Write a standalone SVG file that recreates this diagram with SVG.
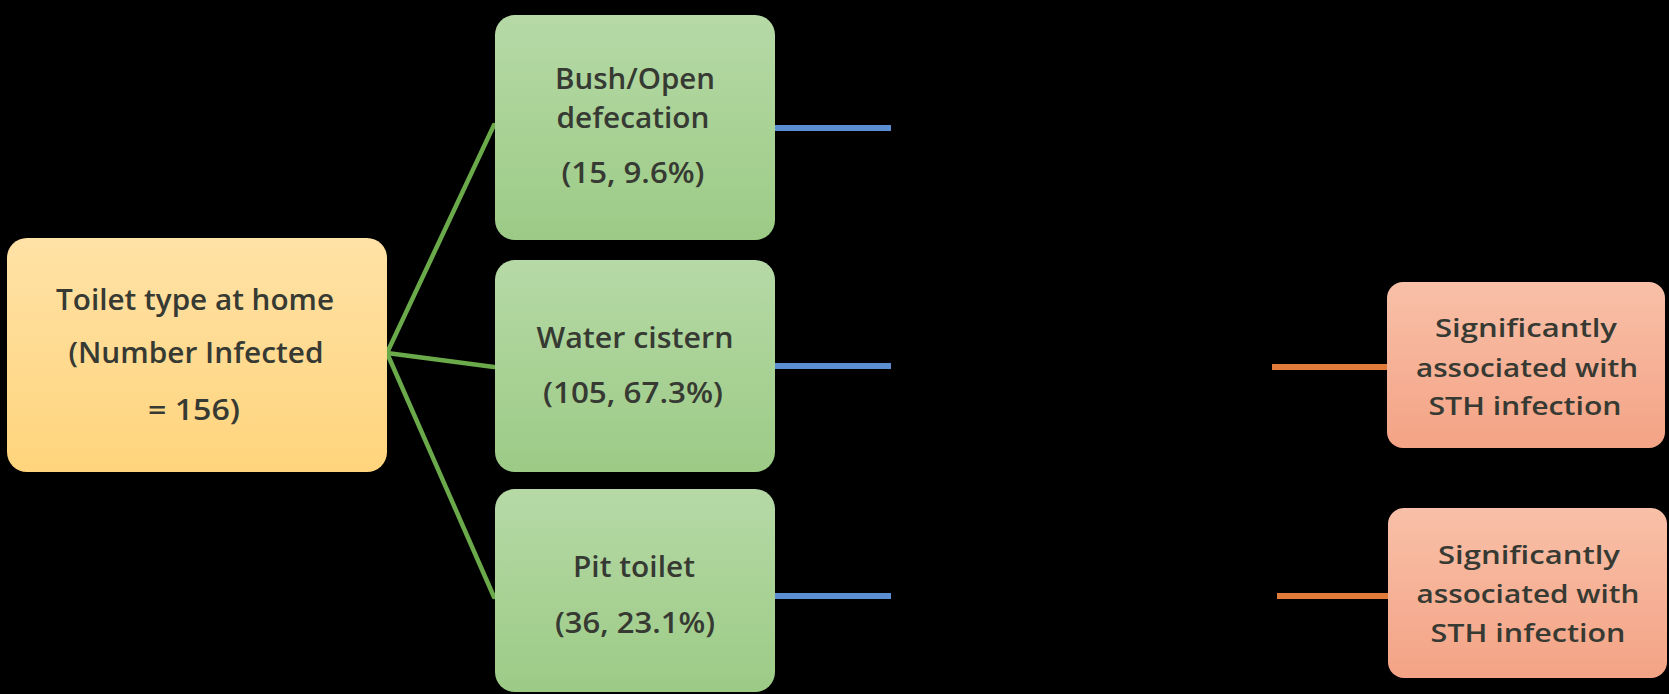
<svg xmlns="http://www.w3.org/2000/svg" width="1669" height="694" viewBox="0 0 1669 694">
<defs>
<linearGradient id="gYellow" x1="0" y1="0" x2="0" y2="1"><stop offset="0" stop-color="#ffe2a6"/><stop offset="1" stop-color="#ffd47c"/></linearGradient>
<linearGradient id="gGreen" x1="0" y1="0" x2="0" y2="1"><stop offset="0" stop-color="#b6d9a6"/><stop offset="1" stop-color="#9ccb86"/></linearGradient>
<linearGradient id="gOrange" x1="0" y1="0" x2="0" y2="1"><stop offset="0" stop-color="#f8c0a8"/><stop offset="1" stop-color="#f4a385"/></linearGradient>
<style>
.t{font-family:"Open Sans","Liberation Sans",sans-serif;fill:#363a33;text-anchor:middle;font-weight:600}
.big{font-size:29px}
.sm{font-size:26px}
.green{stroke:#6aaa4a;stroke-width:4.5;fill:none;stroke-linecap:round}
.blue{stroke:#5b8fd2;stroke-width:6;fill:none}
.orange{stroke:#e07b39;stroke-width:6;fill:none}
</style>
</defs>
<rect width="1669" height="694" fill="#000"/>
<g id="connectors">
<line class="green" x1="387" y1="353" x2="494" y2="125"/>
<line class="green" x1="387" y1="353" x2="494" y2="367"/>
<line class="green" x1="387" y1="353" x2="494" y2="597"/>
<line class="blue" x1="775" y1="128" x2="891" y2="128"/>
<line class="blue" x1="775" y1="366" x2="891" y2="366"/>
<line class="blue" x1="775" y1="596" x2="891" y2="596"/>
<line class="orange" x1="1272" y1="367" x2="1388" y2="367"/>
<line class="orange" x1="1277" y1="596" x2="1389" y2="596"/>
</g>
<g id="toilet-type">
<rect x="7" y="238" width="380" height="234" rx="20" fill="url(#gYellow)"/>
<text class="t big" x="195" y="310" textLength="278" lengthAdjust="spacingAndGlyphs">Toilet type  at home</text>
<text class="t big" x="196" y="363" textLength="255" lengthAdjust="spacingAndGlyphs">(Number  Infected</text>
<text class="t big" x="194" y="420" textLength="92" lengthAdjust="spacingAndGlyphs">= 156)</text>
</g>
<g id="bush">
<rect x="495" y="15" width="280" height="225" rx="20" fill="url(#gGreen)"/>
<text class="t big" x="635" y="89" textLength="160" lengthAdjust="spacingAndGlyphs">Bush/Open</text>
<text class="t big" x="633" y="128" textLength="153" lengthAdjust="spacingAndGlyphs">defecation</text>
<text class="t big" x="633" y="183" textLength="143" lengthAdjust="spacingAndGlyphs">(15, 9.6%)</text>
</g>
<g id="water-cistern">
<rect x="495" y="260" width="280" height="212" rx="20" fill="url(#gGreen)"/>
<text class="t big" x="635" y="348" textLength="197" lengthAdjust="spacingAndGlyphs">Water cistern</text>
<text class="t big" x="633" y="403" textLength="180" lengthAdjust="spacingAndGlyphs">(105, 67.3%)</text>
</g>
<g id="pit-toilet">
<rect x="495" y="489" width="280" height="203" rx="20" fill="url(#gGreen)"/>
<text class="t big" x="634" y="577" textLength="122" lengthAdjust="spacingAndGlyphs">Pit toilet</text>
<text class="t big" x="635" y="633" textLength="160" lengthAdjust="spacingAndGlyphs">(36, 23.1%)</text>
</g>
<g id="sig1">
<rect x="1387" y="282" width="278" height="166" rx="16" fill="url(#gOrange)"/>
<text class="t sm" x="1526" y="337" textLength="182" lengthAdjust="spacingAndGlyphs">Significantly</text>
<text class="t sm" x="1527" y="377" textLength="222" lengthAdjust="spacingAndGlyphs">associated with</text>
<text class="t sm" x="1525" y="415" textLength="193" lengthAdjust="spacingAndGlyphs">STH  infection</text>
</g>
<g id="sig2">
<rect x="1388" y="508" width="279" height="170" rx="16" fill="url(#gOrange)"/>
<text class="t sm" x="1529" y="564" textLength="182" lengthAdjust="spacingAndGlyphs">Significantly</text>
<text class="t sm" x="1528" y="603" textLength="223" lengthAdjust="spacingAndGlyphs">associated with</text>
<text class="t sm" x="1528" y="642" textLength="195" lengthAdjust="spacingAndGlyphs">STH  infection</text>
</g>
</svg>
